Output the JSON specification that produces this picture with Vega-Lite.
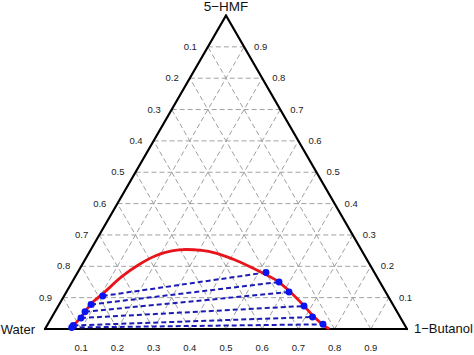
{
  "$schema": "https://vega.github.io/schema/vega-lite/v6.json",
  "width": 474,
  "height": 355,
  "autosize": {"type": "none"},
  "padding": 0,
  "background": "white",
  "config": {"view": {"stroke": null}, "text": {"font": "Liberation Sans"}},
  "datasets": {
    "grid": [
      {"x": 0.05, "y": 0.0866, "x2": 0.95, "y2": 0.0866},
      {"x": 0.10, "y": 0.1732, "x2": 0.90, "y2": 0.1732},
      {"x": 0.15, "y": 0.2598, "x2": 0.85, "y2": 0.2598},
      {"x": 0.20, "y": 0.3464, "x2": 0.80, "y2": 0.3464},
      {"x": 0.25, "y": 0.4330, "x2": 0.75, "y2": 0.4330},
      {"x": 0.30, "y": 0.5196, "x2": 0.70, "y2": 0.5196},
      {"x": 0.35, "y": 0.6062, "x2": 0.65, "y2": 0.6062},
      {"x": 0.40, "y": 0.6928, "x2": 0.60, "y2": 0.6928},
      {"x": 0.45, "y": 0.7794, "x2": 0.55, "y2": 0.7794},
      {"x": 0.1, "y": 0, "x2": 0.55, "y2": 0.7794},
      {"x": 0.2, "y": 0, "x2": 0.60, "y2": 0.6928},
      {"x": 0.3, "y": 0, "x2": 0.65, "y2": 0.6062},
      {"x": 0.4, "y": 0, "x2": 0.70, "y2": 0.5196},
      {"x": 0.5, "y": 0, "x2": 0.75, "y2": 0.4330},
      {"x": 0.6, "y": 0, "x2": 0.80, "y2": 0.3464},
      {"x": 0.7, "y": 0, "x2": 0.85, "y2": 0.2598},
      {"x": 0.8, "y": 0, "x2": 0.90, "y2": 0.1732},
      {"x": 0.9, "y": 0, "x2": 0.95, "y2": 0.0866},
      {"x": 0.1, "y": 0, "x2": 0.05, "y2": 0.0866},
      {"x": 0.2, "y": 0, "x2": 0.10, "y2": 0.1732},
      {"x": 0.3, "y": 0, "x2": 0.15, "y2": 0.2598},
      {"x": 0.4, "y": 0, "x2": 0.20, "y2": 0.3464},
      {"x": 0.5, "y": 0, "x2": 0.25, "y2": 0.4330},
      {"x": 0.6, "y": 0, "x2": 0.30, "y2": 0.5196},
      {"x": 0.7, "y": 0, "x2": 0.35, "y2": 0.6062},
      {"x": 0.8, "y": 0, "x2": 0.40, "y2": 0.6928},
      {"x": 0.9, "y": 0, "x2": 0.45, "y2": 0.7794}
    ],
    "frame": [
      {"x": 0, "y": 0, "x2": 1, "y2": 0},
      {"x": 1, "y": 0, "x2": 0.5, "y2": 0.866},
      {"x": 0.5, "y": 0.866, "x2": 0, "y2": 0}
    ],
    "binodal": [
      {"x": 0.0691, "y": 0},
      {"x": 0.0967, "y": 0.0296},
      {"x": 0.1290, "y": 0.0710},
      {"x": 0.1610, "y": 0.0986},
      {"x": 0.2119, "y": 0.1445},
      {"x": 0.2577, "y": 0.1768},
      {"x": 0.3039, "y": 0.2017},
      {"x": 0.3500, "y": 0.2155},
      {"x": 0.3895, "y": 0.2196},
      {"x": 0.4329, "y": 0.2174},
      {"x": 0.4743, "y": 0.2091},
      {"x": 0.5202, "y": 0.1925},
      {"x": 0.5663, "y": 0.1721},
      {"x": 0.6030, "y": 0.1539},
      {"x": 0.6401, "y": 0.1335},
      {"x": 0.6768, "y": 0.1030},
      {"x": 0.7135, "y": 0.0663},
      {"x": 0.7412, "y": 0.0359},
      {"x": 0.7688, "y": 0.0110},
      {"x": 0.7854, "y": 0}
    ],
    "ties": [
      {"x": 0.1594, "y": 0.0912, "x2": 0.6105, "y2": 0.1561},
      {"x": 0.1271, "y": 0.0677, "x2": 0.6464, "y2": 0.1298},
      {"x": 0.1105, "y": 0.0478, "x2": 0.6740, "y2": 0.1022},
      {"x": 0.0994, "y": 0.0304, "x2": 0.7155, "y2": 0.0635},
      {"x": 0.0782, "y": 0.0097, "x2": 0.7390, "y2": 0.0331},
      {"x": 0.0738, "y": 0.0041, "x2": 0.7680, "y2": 0.0130}
    ],
    "points": [
      {"x": 0.1594, "y": 0.0912}, {"x": 0.1271, "y": 0.0677}, {"x": 0.1105, "y": 0.0478},
      {"x": 0.0994, "y": 0.0304}, {"x": 0.0782, "y": 0.0097}, {"x": 0.0738, "y": 0.0041},
      {"x": 0.6105, "y": 0.1561}, {"x": 0.6464, "y": 0.1298}, {"x": 0.6740, "y": 0.1022},
      {"x": 0.7155, "y": 0.0635}, {"x": 0.7390, "y": 0.0331}, {"x": 0.7680, "y": 0.0130}
    ],
    "leftLabels": [
      {"x": 0.05, "y": 0.0866, "t": "0.9"},
      {"x": 0.10, "y": 0.1732, "t": "0.8"},
      {"x": 0.15, "y": 0.2598, "t": "0.7"},
      {"x": 0.20, "y": 0.3464, "t": "0.6"},
      {"x": 0.25, "y": 0.4330, "t": "0.5"},
      {"x": 0.30, "y": 0.5196, "t": "0.4"},
      {"x": 0.35, "y": 0.6062, "t": "0.3"},
      {"x": 0.40, "y": 0.6928, "t": "0.2"},
      {"x": 0.45, "y": 0.7794, "t": "0.1"}
    ],
    "rightLabels": [
      {"x": 0.95, "y": 0.0866, "t": "0.1"},
      {"x": 0.90, "y": 0.1732, "t": "0.2"},
      {"x": 0.85, "y": 0.2598, "t": "0.3"},
      {"x": 0.80, "y": 0.3464, "t": "0.4"},
      {"x": 0.75, "y": 0.4330, "t": "0.5"},
      {"x": 0.70, "y": 0.5196, "t": "0.6"},
      {"x": 0.65, "y": 0.6062, "t": "0.7"},
      {"x": 0.60, "y": 0.6928, "t": "0.8"},
      {"x": 0.55, "y": 0.7794, "t": "0.9"}
    ],
    "bottomLabels": [
      {"x": 0.1, "y": 0, "t": "0.1"},
      {"x": 0.2, "y": 0, "t": "0.2"},
      {"x": 0.3, "y": 0, "t": "0.3"},
      {"x": 0.4, "y": 0, "t": "0.4"},
      {"x": 0.5, "y": 0, "t": "0.5"},
      {"x": 0.6, "y": 0, "t": "0.6"},
      {"x": 0.7, "y": 0, "t": "0.7"},
      {"x": 0.8, "y": 0, "t": "0.8"},
      {"x": 0.9, "y": 0, "t": "0.9"}
    ]
  },
  "encoding": {
    "x": {"field": "x", "type": "quantitative", "axis": null, "scale": {"domain": [-0.12431, 1.18508], "nice": false, "zero": false}},
    "y": {"field": "y", "type": "quantitative", "axis": null, "scale": {"domain": [-0.07182, 0.90884], "nice": false, "zero": false}}
  },
  "layer": [
    {
      "data": {"name": "grid"},
      "mark": {"type": "rule", "color": "#a0a0a0", "strokeWidth": 1, "strokeDash": [5, 3]},
      "encoding": {"x2": {"field": "x2"}, "y2": {"field": "y2"}}
    },
    {
      "data": {"name": "frame"},
      "mark": {"type": "rule", "color": "#000000", "strokeWidth": 2.2, "strokeCap": "round"},
      "encoding": {"x2": {"field": "x2"}, "y2": {"field": "y2"}}
    },
    {
      "data": {"name": "ties"},
      "mark": {"type": "rule", "color": "#1c1cb4", "strokeWidth": 2, "strokeDash": [5, 3]},
      "encoding": {"x2": {"field": "x2"}, "y2": {"field": "y2"}}
    },
    {
      "data": {"name": "binodal"},
      "mark": {"type": "line", "color": "#e8141c", "strokeWidth": 2.8, "interpolate": "monotone"},
      "encoding": {}
    },
    {
      "data": {"name": "points"},
      "mark": {"type": "circle", "color": "#0a14f0", "opacity": 1, "size": 48}
    },
    {
      "data": {"name": "leftLabels"},
      "mark": {"type": "text", "align": "right", "baseline": "middle", "dx": -11, "fontSize": 9.5, "color": "#222222"},
      "encoding": {"text": {"field": "t"}}
    },
    {
      "data": {"name": "rightLabels"},
      "mark": {"type": "text", "align": "left", "baseline": "middle", "dx": 10, "fontSize": 9.5, "color": "#222222"},
      "encoding": {"text": {"field": "t"}}
    },
    {
      "data": {"name": "bottomLabels"},
      "mark": {"type": "text", "align": "center", "baseline": "middle", "dy": 19, "fontSize": 9.5, "color": "#222222"},
      "encoding": {"text": {"field": "t"}}
    },
    {
      "data": {"values": [
        {"x": 0, "y": 0, "t": "Water"}
      ]},
      "mark": {"type": "text", "align": "right", "baseline": "middle", "dx": -10, "dy": 1, "fontSize": 13, "color": "#111111"},
      "encoding": {"text": {"field": "t"}}
    },
    {
      "data": {"values": [
        {"x": 1, "y": 0, "t": "1−Butanol"}
      ]},
      "mark": {"type": "text", "align": "left", "baseline": "middle", "dx": 7, "fontSize": 13, "color": "#111111"},
      "encoding": {"text": {"field": "t"}}
    },
    {
      "data": {"values": [
        {"x": 0.5, "y": 0.866, "t": "5−HMF"}
      ]},
      "mark": {"type": "text", "align": "center", "baseline": "middle", "dy": -9, "fontSize": 13.5, "color": "#111111"},
      "encoding": {"text": {"field": "t"}}
    }
  ]
}
